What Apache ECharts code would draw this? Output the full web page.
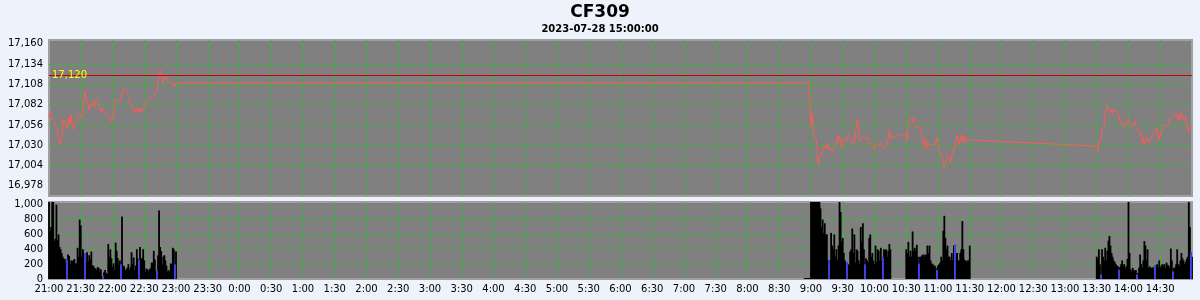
<!DOCTYPE html>
<html><head><meta charset="utf-8">
<script src="https://cdn.jsdelivr.net/npm/echarts@6/dist/echarts.min.js"></script>
<style>html,body{margin:0;padding:0;background:#eef3fb}#c{width:1200px;height:300px}</style>
</head><body><div id="c"></div>
<script>
const chartTitle = 'CF309';
const chartSubtitle = '2023-07-28 15:00:00';
const refPrice = 17120;
const priceTicks = [16978, 17004, 17030, 17056, 17082, 17108, 17134, 17160];
const volumeTicks = [0, 200, 400, 600, 800, 1000];

// session start times (one value per minute from the start)
const nightStart = '21:00';
const nightPrice = [
17066,17072,17068,17062,17063,17060,17058,17052,17048,17039,
17037,17030,17036,17064,17058,17060,17062,17050,17058,17066,
17057,17070,17056,17050,17053,17058,17063,17067,17068,17070,
17071,17065,17075,17088,17099,17093,17085,17080,17075,17084,
17080,17085,17086,17078,17088,17088,17088,17086,17075,17071,
17078,17075,17073,17073,17073,17071,17070,17068,17063,17060,
17064,17073,17084,17089,17088,17086,17084,17088,17091,17093,
17099,17103,17105,17102,17099,17093,17086,17081,17082,17080,
17071,17076,17073,17071,17078,17071,17078,17073,17071,17075,
17081,17083,17086,17088,17089,17089,17090,17092,17092,17094,
17096,17098,17100,17110,17122,17127,17118,17120,17110,17118,
17114,17118,17112,17110,17110,17110,17110,17110,17110,17105,
17110];
const nightVolume = [
1200,640,700,1200,1200,510,540,1000,520,600,
430,400,350,300,270,270,220,260,330,310,
200,250,240,250,270,210,210,420,300,800,
720,300,400,350,350,220,360,240,320,260,
370,180,180,150,140,120,160,150,100,130,
40,40,90,120,80,70,470,300,400,280,
160,210,120,490,380,280,190,250,200,840,
180,170,110,130,150,200,120,160,360,200,
290,120,180,400,270,260,430,270,280,400,
250,100,140,130,110,130,150,220,220,380,
260,100,110,320,920,430,380,200,300,320,
250,180,100,120,100,210,200,420,400,200,
370];

const preStart = '08:54';
const prePrice = [17110,17110,17110,17110,17110,17110];
const preVolume = [12,12,12,12,12,12];

const amStart = '09:00';
const amPrice = [
17055,17071,17050,17044,17042,17037,17020,17005,17016,17018,
17018,17024,17029,17027,17025,17033,17027,17024,17027,17025,
17022,17027,17025,17030,17033,17041,17033,17044,17033,17027,
17033,17038,17039,17035,17039,17044,17044,17039,17035,17037,
17031,17033,17044,17055,17065,17048,17035,17033,17040,17042,
17039,17041,17039,17039,17039,17033,17033,17031,17033,17029,
17025,17029,17033,17031,17029,17031,17033,17035,17027,17027,
17027,17025,17029,17031,17050,17039];
const amVolume = [
1200,1200,1200,1200,1200,1200,1200,1200,1200,950,
700,800,620,750,600,600,250,250,250,620,
450,400,600,300,400,250,450,1200,900,500,
550,350,250,220,230,200,180,370,400,680,
350,600,220,400,380,250,200,700,500,750,
400,200,280,250,220,550,600,300,350,250,
200,450,230,400,380,250,420,250,290,400,
380,400,300,380,470,400];

const midStart = '10:30';
const midPrice = [
17045,17036,17057,17060,17061,17065,17060,17065,17060,17055,
17052,17050,17054,17050,17046,17042,17033,17029,17037,17025,
17035,17029,17031,17031,17031,17031,17031,17031,17033,17039,
17031,17025,17022,17022,17014,17012,17001,17007,17012,17018,
17016,17012,17007,17016,17022,17024,17026,17037,17044,17042,
17031,17039,17044,17033,17039,17042,17033,17039,17037,17037,
17039];
const midVolume = [
400,350,500,300,380,300,640,380,420,380,
460,300,210,300,300,320,330,300,330,320,
450,350,450,250,210,200,180,180,150,120,
180,200,220,300,250,650,850,550,400,450,
300,300,250,350,250,450,460,340,350,250,
250,350,400,780,400,260,250,230,250,250,
450];

const pmStart = '13:30';
const pmPrice = [
17029,17022,17035,17037,17036,17049,17050,17055,17072,17075,
17082,17076,17078,17071,17076,17071,17076,17076,17075,17077,
17071,17070,17060,17058,17060,17061,17053,17056,17055,17061,
17065,17061,17054,17054,17056,17058,17061,17055,17052,17050,
17046,17044,17046,17031,17039,17031,17039,17037,17039,17033,
17037,17039,17042,17046,17048,17044,17048,17052,17044,17037,
17044,17041,17054,17055,17055,17055,17055,17055,17058,17063,
17066,17065,17067,17065,17069,17067,17071,17061,17069,17063,
17073,17069,17067,17061,17067,17061,17052,17046,17054,17052,
17054];
const pmVolume = [
300,270,400,200,60,400,300,250,420,250,
380,515,580,450,350,300,250,230,200,180,
170,125,160,200,250,180,200,150,170,270,
1200,350,130,100,150,120,100,120,60,80,
150,330,200,150,250,510,450,250,400,150,
170,150,150,160,130,180,170,200,150,250,
150,180,200,170,200,150,220,190,180,150,
410,250,100,150,150,200,400,200,180,250,
350,280,250,200,230,270,300,1200,700,355,
300];

const blueBars = ['21:17','21:34','21:51','22:08','22:25','22:42','22:59',
  '09:17','09:34','09:51','10:08','10:42','10:59','11:16',
  '13:34','13:51','14:08','14:25','14:42','14:59'];

function toMin(hhmm) {
  const [h, m] = hhmm.split(':').map(Number);
  return (h >= 21 ? (h - 21) : (h + 3)) * 60 + m;
}
function fmtTime(v) {
  const t = (21 * 60 + v) % 1440;
  return Math.floor(t / 60) + ':' + String(t % 60).padStart(2, '0');
}
function fmtNum(v) {
  return String(Math.round(v)).replace(/\B(?=(\d{3})+(?!\d))/g, ',');
}

const blueSet = new Set(blueBars.map(toMin));
const sessions = [
  [nightStart, nightPrice, nightVolume],
  [preStart, prePrice, preVolume],
  [amStart, amPrice, amVolume],
  [midStart, midPrice, midVolume],
  [pmStart, pmPrice, pmVolume]
];
const priceData = [];
const volumeData = [];
const blueData = [];
sessions.forEach(([start, prices, vols]) => {
  const s = toMin(start);
  prices.forEach((p, i) => priceData.push([s + i, p]));
  vols.forEach((v, i) => {
    const x = s + i;
    volumeData.push([x, v]);
    if (blueSet.has(x)) blueData.push([x, v]);
  });
});

const FONT = 'DejaVu Sans';
const splitStyle = { show: true, showMinLine: false, showMaxLine: false,
  lineStyle: { color: '#33bb33', type: [3, 1.5], width: 1 } };
const labelBase = { fontFamily: FONT, fontSize: 10, color: '#000' };

const chart = echarts.init(document.getElementById('c'), null, { renderer: 'canvas' });
chart.setOption({
  backgroundColor: '#eef3fb',
  animation: false,
  title: [
    { text: chartTitle, left: 'center', top: 4, padding: 0,
      textStyle: { fontFamily: FONT, fontSize: 17, fontWeight: 'bold', color: '#000' } },
    { text: chartSubtitle, left: 'center', top: 24, padding: 0,
      textStyle: { fontFamily: FONT, fontSize: 10, fontWeight: 'bold', color: '#000' } }
  ],
  grid: [
    { left: 49, right: 8, top: 40, height: 156, show: true, backgroundColor: '#808080', borderColor: '#a0a0a0', borderWidth: 2 },
    { left: 49, right: 8, top: 202, height: 77, show: true, backgroundColor: '#808080', borderColor: '#a0a0a0', borderWidth: 2 }
  ],
  xAxis: [
    { type: 'value', gridIndex: 0, min: 0, max: 1080, interval: 30,
      axisLine: { show: false }, axisTick: { show: false }, axisLabel: { show: false },
      splitLine: splitStyle },
    { type: 'value', gridIndex: 1, min: 0, max: 1080, interval: 30,
      axisLine: { show: false }, axisTick: { show: false },
      axisLabel: Object.assign({ show: true, showMaxLabel: false, margin: 5, formatter: fmtTime }, labelBase),
      splitLine: splitStyle }
  ],
  yAxis: [
    { type: 'value', gridIndex: 0, min: 16965, max: 17165,
      axisLine: { show: false },
      axisTick: { show: false, customValues: priceTicks },
      axisLabel: Object.assign({ customValues: priceTicks, margin: 6, formatter: fmtNum }, labelBase),
      splitLine: splitStyle },
    { type: 'value', gridIndex: 1, min: 0, max: 1036,
      axisLine: { show: false },
      axisTick: { show: false, customValues: volumeTicks },
      axisLabel: Object.assign({ customValues: volumeTicks, margin: 6, formatter: fmtNum }, labelBase),
      splitLine: splitStyle }
  ],
  series: [
    { type: 'line', xAxisIndex: 0, yAxisIndex: 0, data: priceData,
      symbol: 'none', showSymbol: false,
      lineStyle: { color: '#ff5a5a', width: 1 },
      markLine: { symbol: 'none', silent: true, animation: false,
        data: [{ yAxis: refPrice }],
        lineStyle: { color: '#cc0000', width: 1, type: 'solid' },
        label: { position: 'insideStart', distance: 3, color: '#ffff00', fontFamily: FONT, fontSize: 10,
          formatter: p => fmtNum(p.value) } } },
    { type: 'bar', xAxisIndex: 1, yAxisIndex: 1, data: volumeData,
      barWidth: 1.8, itemStyle: { color: '#000000' } },
    { type: 'bar', xAxisIndex: 1, yAxisIndex: 1, data: blueData,
      barWidth: 1.8, barGap: '-100%', z: 3, itemStyle: { color: '#4646ff' } }
  ]
});
</script></body></html>
